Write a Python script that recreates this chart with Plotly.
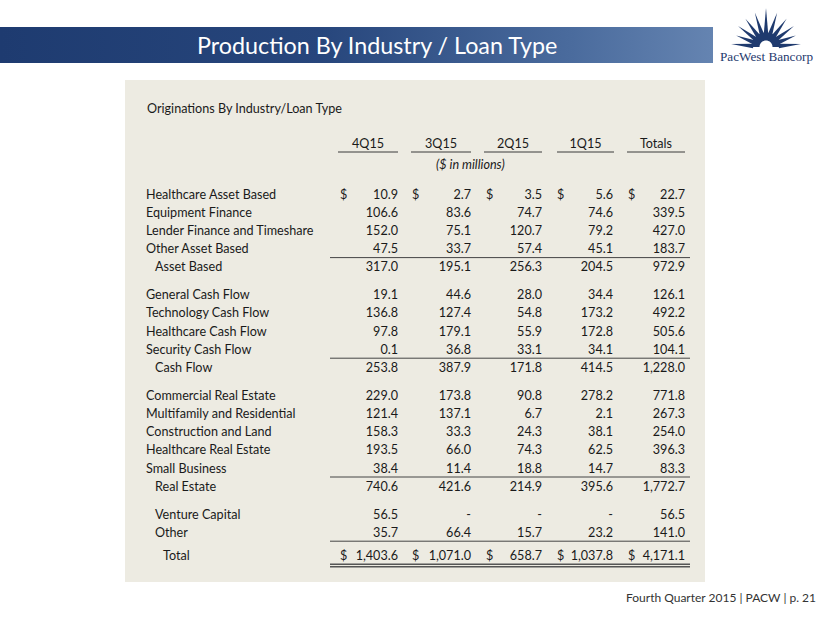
import math
import plotly.graph_objects as go

# ---------------- data ----------------
categories = [
    "Healthcare Asset Based", "Equipment Finance", "Lender Finance and Timeshare",
    "Other Asset Based", "Asset Based",
    "General Cash Flow", "Technology Cash Flow", "Healthcare Cash Flow",
    "Security Cash Flow", "Cash Flow",
    "Commercial Real Estate", "Multifamily and Residential", "Construction and Land",
    "Healthcare Real Estate", "Small Business", "Real Estate",
    "Venture Capital", "Other", "Total",
]
q4_2015 = [10.9, 106.6, 152.0, 47.5, 317.0, 19.1, 136.8, 97.8, 0.1, 253.8,
           229.0, 121.4, 158.3, 193.5, 38.4, 740.6, 56.5, 35.7, 1403.6]
q3_2015 = [2.7, 83.6, 75.1, 33.7, 195.1, 44.6, 127.4, 179.1, 36.8, 387.9,
           173.8, 137.1, 33.3, 66.0, 11.4, 421.6, None, 66.4, 1071.0]
q2_2015 = [3.5, 74.7, 120.7, 57.4, 256.3, 28.0, 54.8, 55.9, 33.1, 171.8,
           90.8, 6.7, 24.3, 74.3, 18.8, 214.9, None, 15.7, 658.7]
q1_2015 = [5.6, 74.6, 79.2, 45.1, 204.5, 34.4, 173.2, 172.8, 34.1, 414.5,
           278.2, 2.1, 38.1, 62.5, 14.7, 395.6, None, 23.2, 1037.8]
totals = [22.7, 339.5, 427.0, 183.7, 972.9, 126.1, 492.2, 505.6, 104.1, 1228.0,
          771.8, 267.3, 254.0, 396.3, 83.3, 1772.7, 56.5, 141.0, 4171.1]
column_labels = ["4Q15", "3Q15", "2Q15", "1Q15", "Totals"]
row_kinds = (["item"] * 4 + ["subtotal"] + ["item"] * 4 + ["subtotal"]
             + ["item"] * 5 + ["subtotal"] + ["other", "other", "total"])
dollar_rows = ["Healthcare Asset Based", "Total"]

title_text = "Production By Industry / Loan Type"
table_title = "Originations By Industry/Loan Type"
units_text = "($ in millions)"
footer_text = "Fourth Quarter 2015 | PACW | p. 21"
logo_text = "PacWest Bancorp"

# ---------------- layout constants ----------------
W, H = 830, 623
FONT = "Lato"
TXT = "#1a1a1a"
PANEL = "#EDEBE2"
col_right = [398, 471, 542, 613, 685]
col_dollar = [340, 412, 486, 557, 628]
col_under = [(338, 398), (411, 471), (484, 542), (557, 614), (627, 685)]
label_x = {"item": 146, "subtotal": 155, "other": 155, "total": 163}
first_row_y = 194
pitch = 18.2
group_gap = 9.6
total_gap = 5.0
text_dy = 1.5
FS = 12.6

# compute row positions
row_y = []
y = first_row_y
for i, kind in enumerate(row_kinds):
    if i > 0:
        y += pitch
        if row_kinds[i - 1] == "subtotal":
            y += group_gap
        if kind == "total":
            y += total_gap
    row_y.append(y)
text_y = [v + text_dy for v in row_y]


def fmt(v):
    return "-" if v is None else f"{v:,.1f}"


fig = go.Figure()

# title band (gradient)
fig.add_trace(go.Scatter(
    x=[0, 713, 713, 0, 0], y=[27, 27, 63, 63, 27], mode="lines",
    fill="toself", line=dict(width=0),
    fillgradient=dict(type="horizontal",
                      colorscale=[[0, "#1E3B70"], [0.45, "#27467C"], [0.8, "#4A6B9D"], [1, "#6584B1"]]),
    hoverinfo="skip", showlegend=False))

# row labels
fig.add_trace(go.Scatter(
    x=[label_x[k] for k in row_kinds], y=text_y, text=categories,
    mode="text", textposition="middle right",
    textfont=dict(family=FONT, size=FS, color=TXT),
    hoverinfo="skip", showlegend=False))

# value columns
for ci, series in enumerate([q4_2015, q3_2015, q2_2015, q1_2015, totals]):
    fig.add_trace(go.Scatter(
        x=[col_right[ci]] * len(series), y=text_y, text=[fmt(v) for v in series],
        mode="text", textposition="middle left",
        textfont=dict(family=FONT, size=FS, color=TXT),
        hoverinfo="skip", showlegend=False))
    dys = [text_y[categories.index(r)] for r in dollar_rows]
    fig.add_trace(go.Scatter(
        x=[col_dollar[ci]] * len(dys), y=dys, text=["$"] * len(dys),
        mode="text", textposition="middle right",
        textfont=dict(family=FONT, size=FS, color=TXT),
        hoverinfo="skip", showlegend=False))

# column headers
header_y = 144.5
fig.add_trace(go.Scatter(
    x=[(a + b) / 2 for a, b in col_under], y=[header_y] * len(column_labels),
    text=column_labels, mode="text", textposition="middle center",
    textfont=dict(family=FONT, size=FS, color=TXT),
    hoverinfo="skip", showlegend=False))

shapes = []
# panel
shapes.append(dict(type="rect", xref="x", yref="y", x0=125, x1=705, y0=80, y1=582,
                   fillcolor=PANEL, line=dict(width=0), layer="below"))
# header underlines
for a, b in col_under:
    shapes.append(dict(type="line", xref="x", yref="y", x0=a, x1=b, y0=152, y1=152,
                       line=dict(color="#3a3a3a", width=1)))
# subtotal lines
for i, kind in enumerate(row_kinds):
    if i + 1 < len(row_kinds) and row_kinds[i + 1] in ("subtotal", "total"):
        ly = row_y[i] + 9.0
        shapes.append(dict(type="line", xref="x", yref="y", x0=330, x1=690, y0=ly, y1=ly,
                           line=dict(color="#444444", width=1)))
# double line under total
for off in (8.8, 11.4):
    ly = row_y[-1] + off
    shapes.append(dict(type="line", xref="x", yref="y", x0=330, x1=690, y0=ly, y1=ly,
                       line=dict(color="#555555", width=1.5)))

# logo: sunburst
NAVY = "#1F3A6E"
cx, cy = 766, 47
ray_angles = [5, 21, 37, 54, 72, 90, 108, 126, 143, 159, 175]
ray_lens = [35, 32, 35, 35, 36, 39, 36, 35, 35, 32, 35]
for ang, ln in zip(ray_angles, ray_lens):
    a = math.radians(ang)
    hw = math.radians(10)
    r0 = 13
    p1 = (cx + r0 * math.cos(a - hw), cy - r0 * math.sin(a - hw))
    p2 = (cx + ln * math.cos(a), cy - ln * math.sin(a))
    p3 = (cx + r0 * math.cos(a + hw), cy - r0 * math.sin(a + hw))
    path = f"M {p1[0]:.2f},{p1[1]:.2f} L {p2[0]:.2f},{p2[1]:.2f} L {p3[0]:.2f},{p3[1]:.2f} Z"
    shapes.append(dict(type="path", xref="x", yref="y", path=path,
                       fillcolor=NAVY, line=dict(width=0)))
# dome with white arch
pts = []
for k in range(0, 181, 10):
    a = math.radians(k)
    pts.append((cx + 14.5 * math.cos(a), cy - 14.5 * math.sin(a)))
for k in range(180, -1, -10):
    a = math.radians(k)
    pts.append((cx + 6.5 * math.cos(a), cy - 6.5 * math.sin(a)))
path = "M " + " L ".join(f"{px:.2f},{py:.2f}" for px, py in pts) + " Z"
shapes.append(dict(type="path", xref="x", yref="y", path=path, fillcolor=NAVY, line=dict(width=0)))

annotations = [
    dict(x=377, y=45, xref="x", yref="y", text=title_text, showarrow=False,
         font=dict(family=FONT, size=23.3, color="white"), xanchor="center", yanchor="middle"),
    dict(x=145, y=108, xref="x", yref="y", text=table_title, showarrow=False,
         font=dict(family=FONT, size=FS, color=TXT), xanchor="left", yanchor="middle"),
    dict(x=470, y=164, xref="x", yref="y", text="<i>" + units_text + "</i>", showarrow=False,
         font=dict(family=FONT, size=FS, color=TXT), xanchor="center", yanchor="middle"),
    dict(x=818, y=597, xref="x", yref="y", text=footer_text, showarrow=False,
         font=dict(family=FONT, size=12, color="#333333"), xanchor="right", yanchor="middle"),
    dict(x=766, y=56, xref="x", yref="y", text=logo_text, showarrow=False,
         font=dict(family="Liberation Serif", size=13.2, color=NAVY), xanchor="center", yanchor="middle"),
]

fig.update_layout(
    width=W, height=H, margin=dict(l=0, r=0, t=0, b=0),
    paper_bgcolor="white", plot_bgcolor="white",
    xaxis=dict(range=[0, W], visible=False, fixedrange=True),
    yaxis=dict(range=[H, 0], visible=False, fixedrange=True),
    shapes=shapes, annotations=annotations, showlegend=False,
)

fig.write_html("out.html", config={"displayModeBar": False},
               post_script="document.body.style.margin='0';document.body.style.overflow='hidden';")
